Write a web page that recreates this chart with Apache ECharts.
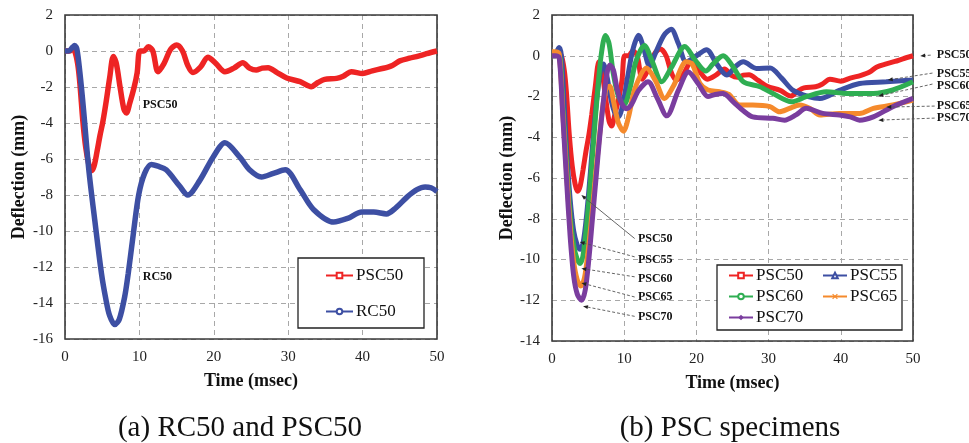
<!DOCTYPE html>
<html>
<head>
<meta charset="utf-8">
<script src="https://cdn.jsdelivr.net/npm/echarts@6/dist/echarts.min.js"></script>
<style>
  html, body { margin: 0; padding: 0; background: #fff; }
  #chart { width: 969px; height: 443px; }
</style>
</head>
<body>
<div id="chart"></div>
<script>
// Mid-span deflection histories (time in msec, deflection in mm)
const timePSC50 = [0, 0.5, 1.0, 1.3, 1.7, 2.0, 2.4, 2.8, 3.2, 3.55, 3.9, 4.3, 4.7, 5.1, 5.5, 6.0, 6.5, 6.9, 7.4, 7.9, 8.25, 8.7, 9.3, 9.7, 10.05, 10.6, 11.2, 11.8, 12.5, 13.3, 14.2, 15.0, 15.8, 16.5, 17.2, 18.2, 19.2, 20.3, 21.5, 22.7, 23.9, 24.8, 25.7, 26.5, 27.3, 28.5, 29.8, 31.6, 33.1, 34.0, 34.9, 36.5, 37.4, 38.5, 40.0, 41.3, 42.8, 44.0, 45.0, 46.3, 47.5, 48.6, 50];
const defPSC50 = [0, 0, 0.05, 0, -0.7, -1.8, -3.9, -5.4, -6.3, -6.65, -6.4, -5.6, -4.7, -3.9, -2.9, -1.5, -0.3, -0.7, -2.0, -3.2, -3.45, -2.9, -2.0, -1.2, 0, 0, 0.24, 0.0, -1.15, -0.7, 0.1, 0.33, 0.0, -0.8, -1.2, -0.9, -0.35, -0.7, -1.15, -0.95, -0.65, -0.95, -1.06, -0.95, -0.93, -1.2, -1.5, -1.7, -1.98, -1.75, -1.58, -1.52, -1.4, -1.15, -1.25, -1.1, -0.96, -0.8, -0.55, -0.4, -0.28, -0.15, 0];

const timeRC50 = [0, 0.5, 1.0, 1.3, 1.6, 2.0, 2.5, 3.2, 4.0, 4.9, 5.5, 6.0, 6.7, 7.3, 8.0, 8.5, 9.2, 9.9, 10.7, 11.6, 12.5, 13.6, 15.4, 16.5, 18.1, 19.9, 21.5, 23.5, 24.8, 26.4, 28.0, 29.6, 31.6, 33.4, 36.1, 38.0, 39.9, 41.5, 43.2, 44.5, 46.0, 47.3, 48.4, 49.2, 50];
const defRC50 = [0, 0, 0.2, 0.3, 0.1, -1.2, -3.3, -6.6, -9.4, -12.35, -13.8, -14.7, -15.2, -14.9, -13.7, -12.35, -10.1, -8.0, -6.8, -6.3, -6.4, -6.6, -7.5, -8.0, -7.2, -5.9, -5.1, -5.9, -6.6, -7.0, -6.8, -6.6, -7.7, -8.8, -9.5, -9.3, -8.95, -8.95, -9.05, -8.7, -8.1, -7.7, -7.55, -7.6, -7.8];

const timePSC55 = [0, 0.5, 0.8, 1.0, 1.3, 1.6, 2.0, 2.5, 3.0, 3.5, 3.9, 4.3, 4.8, 5.3, 5.8, 6.3, 6.8, 7.1, 7.6, 8.2, 8.8, 9.2, 9.8, 10.5, 11.2, 12.0, 12.6, 13.5, 14.3, 15.5, 16.5, 17.5, 18.6, 20.0, 21.4, 22.8, 24.2, 25.5, 26.5, 28.3, 30.2, 31.8, 33.4, 35.5, 37.1, 39.8, 42.6, 46.3, 50];
const defPSC55 = [0, 0, 0.3, 0.4, 0.0, -1.8, -4.5, -7.0, -8.6, -9.3, -9.5, -9.2, -7.8, -5.8, -3.6, -1.8, -0.6, -0.4, -1.0, -2.2, -2.9, -3.0, -2.4, -1.0, 0.3, 1.0, 0.5, -0.5, 0.1, 1.0, 1.3, 0.6, -0.3, 0.0, 0.3, -0.4, -0.95, -0.5, -0.3, -0.62, -0.6, -1.1, -1.7, -2.0, -2.1, -1.7, -1.36, -1.28, -1.19];

const timePSC60 = [0, 0.5, 1.0, 1.5, 2.0, 2.5, 3.0, 3.5, 3.9, 4.3, 4.8, 5.3, 5.8, 6.3, 6.8, 7.4, 7.9, 8.5, 9.2, 10.0, 10.8, 11.6, 12.8, 13.9, 15.2, 16.5, 18.4, 19.8, 21.3, 22.3, 23.7, 25.0, 26.5, 28.8, 30.6, 33.2, 35.2, 38.0, 40.8, 44.5, 47.2, 50];
const defPSC60 = [0, 0, 0, -2.5, -5.2, -7.8, -9.3, -10.0, -10.2, -9.8, -8.3, -6.3, -4.0, -1.8, 0.0, 1.0, 0.6, -0.9, -2.0, -2.4, -1.6, -0.3, 0.5, -0.3, -1.28, -0.6, 0.45, -0.2, -0.75, -0.4, 0.0, -0.5, -1.28, -1.52, -1.85, -2.26, -2.01, -1.77, -1.85, -1.85, -1.68, -1.28];

const timePSC65 = [0, 0.5, 1.0, 1.5, 2.0, 2.5, 3.0, 3.5, 4.0, 4.5, 5.0, 5.5, 6.0, 6.5, 7.0, 7.5, 8.0, 8.5, 9.2, 9.9, 10.6, 11.5, 13.1, 14.3, 15.6, 16.8, 18.6, 19.4, 20.5, 21.6, 23.2, 24.5, 26.0, 27.8, 30.2, 31.5, 32.8, 34.3, 35.8, 37.1, 39.8, 42.6, 44.5, 47.2, 50];
const defPSC65 = [0.2, 0.2, 0.1, -2.8, -5.6, -8.3, -10.1, -11.0, -11.3, -10.9, -9.6, -7.9, -6.0, -4.2, -2.6, -1.6, -1.5, -2.2, -3.3, -3.7, -3.0, -1.6, -0.6, -1.2, -2.1, -1.5, -0.3, -0.4, -1.36, -1.68, -1.77, -1.9, -2.42, -2.42, -2.5, -2.75, -2.6, -2.42, -2.6, -2.91, -2.83, -2.83, -2.58, -2.42, -2.18];

const timePSC70 = [0, 0.5, 1.0, 1.5, 2.0, 2.5, 3.0, 3.5, 4.1, 4.6, 5.1, 5.6, 6.1, 6.6, 7.1, 7.6, 8.0, 8.5, 9.0, 9.6, 10.3, 11.0, 12.0, 13.3, 14.6, 15.9, 17.5, 18.9, 20.3, 21.6, 22.6, 23.7, 25.1, 26.5, 27.8, 30.6, 32.2, 33.8, 35.2, 37.5, 39.8, 41.3, 42.6, 44.5, 47.2, 50];
const defPSC70 = [0, 0, -0.1, -3.0, -6.0, -8.8, -10.8, -11.7, -12.0, -11.5, -10.0, -8.0, -6.0, -4.0, -2.3, -0.9, -0.45, -0.7, -1.6, -2.3, -2.6, -2.4, -1.7, -1.28, -2.1, -2.95, -1.7, -0.8, -1.4, -2.0, -1.9, -1.85, -2.26, -2.7, -3.0, -3.07, -3.16, -2.9, -2.58, -2.83, -2.91, -3.0, -3.16, -3.0, -2.5, -2.09];

// Axis settings
const timeTicks = { min: 0, max: 50, interval: 10 };
const defTicksA = { min: -16, max: 2, interval: 2 };
const defTicksB = { min: -14, max: 2, interval: 2 };

// Callout labels (data coordinates of panel b)
const calloutNames = ['PSC50', 'PSC55', 'PSC60', 'PSC65', 'PSC70'];
const peakLabelPos = [[11.9, -9.0], [11.9, -10.0], [11.9, -10.93], [11.9, -11.86], [11.9, -12.8]];
const peakArrowFrom = [[11.45, -8.97], [11.45, -9.87], [11.45, -10.85], [11.45, -11.84], [11.45, -12.79]];
const peakArrowTo = [[4.07, -6.84], [3.84, -9.14], [4.07, -10.44], [4.07, -11.15], [4.29, -12.29]];
const endLabelPos = [[53.3, 0.03], [53.3, -0.9], [53.3, -1.49], [53.3, -2.47], [53.3, -3.06]];
const endArrowFrom = [[52.45, 0.03], [52.7, -0.85], [52.7, -1.39], [53.0, -2.47], [53.0, -3.06]];
const endArrowTo = [[51.0, -0.01], [46.5, -1.19], [45.2, -1.98], [46.3, -2.52], [45.2, -3.16]];
// Curve labels in panel a
const panelALabels = [['PSC50', 10.45, -3.0], ['RC50', 10.45, -12.55]];

const colors = {
  PSC50: '#ee2424', RC50: '#3d4fa3', PSC55: '#3d4fa3',
  PSC60: '#2fae52', PSC65: '#f58a2c', PSC70: '#7a3d9e'
};
const symbols = {
  PSC50: 'emptyRect', RC50: 'emptyCircle', PSC55: 'emptyTriangle',
  PSC60: 'emptyCircle', PSC65: 'path://M0,1.5L1.5,0L5,3.5L8.5,0L10,1.5L6.5,5L10,8.5L8.5,10L5,6.5L1.5,10L0,8.5L3.5,5Z',
  PSC70: 'diamond'
};

const serif = '"Liberation Serif", "Times New Roman", serif';

function pairs(t, v) { return t.map((x, i) => [x, v[i]]); }

function lineSeries(name, t, v, panel, width) {
  return {
    name: name, type: 'line', xAxisIndex: panel, yAxisIndex: panel,
    data: pairs(t, v), smooth: 0.3, showSymbol: false,
    symbol: symbols[name], symbolSize: 6,
    color: colors[name],
    lineStyle: { width: width, color: colors[name] },
    itemStyle: { color: colors[name], borderColor: colors[name] },
    emphasis: { disabled: true }, animation: false, z: 3
  };
}

function xAxisFor(gridIndex) {
  return {
    type: 'value', gridIndex: gridIndex, min: timeTicks.min, max: timeTicks.max, interval: timeTicks.interval,
    name: 'Time (msec)', nameLocation: 'middle', nameGap: 33,
    nameTextStyle: { fontFamily: serif, fontWeight: 'bold', fontSize: 18, color: '#111' },
    axisLine: { show: false }, axisTick: { show: false },
    axisLabel: { fontFamily: serif, fontSize: 15, color: '#222', margin: 11 },
    splitLine: { show: true, lineStyle: { color: '#a8a8a8', type: [5, 4], width: 1 } }
  };
}
function yAxisFor(gridIndex, ticks, gap) {
  return {
    type: 'value', gridIndex: gridIndex, min: ticks.min, max: ticks.max, interval: ticks.interval,
    name: 'Deflection (mm)', nameLocation: 'middle', nameGap: gap, nameRotate: 90,
    nameTextStyle: { fontFamily: serif, fontWeight: 'bold', fontSize: 18, color: '#111' },
    axisLine: { show: false }, axisTick: { show: false },
    axisLabel: { fontFamily: serif, fontSize: 15, color: '#222', margin: 12 },
    splitLine: { show: true, lineStyle: { color: '#a8a8a8', type: [5, 4], width: 1 } }
  };
}

const legendText = { fontFamily: serif, fontSize: 17, color: '#111', padding: [0, 0, 0, -2] };

const chart = echarts.init(document.getElementById('chart'), null, { renderer: 'canvas' });

const gridA = { left: 65, top: 15, width: 372, height: 324 };
const gridB = { left: 552, top: 15, width: 361, height: 326 };

chart.setOption({
  backgroundColor: '#fff',
  animation: false,
  grid: [
    Object.assign({ show: false }, gridA),
    Object.assign({ show: false }, gridB)
  ],
  xAxis: [xAxisFor(0), xAxisFor(1)],
  yAxis: [yAxisFor(0, defTicksA, 37), yAxisFor(1, defTicksB, 35)],
  legend: [
    { data: ['PSC50', 'RC50'], orient: 'vertical', left: 325, top: 267, padding: 0, itemWidth: 27, itemHeight: 7, itemGap: 19,
      textStyle: legendText, lineStyle: { width: 2 }, selectedMode: false, z: 20 },
    { data: ['PSC50', 'PSC60', 'PSC70'], orient: 'vertical', left: 728, top: 267, padding: 0, itemWidth: 24, itemHeight: 7, itemGap: 4,
      textStyle: legendText, lineStyle: { width: 2 }, selectedMode: false, z: 20 },
    { data: ['PSC55', 'PSC65'], orient: 'vertical', left: 822, top: 267, padding: 0, itemWidth: 24, itemHeight: 7, itemGap: 4,
      textStyle: legendText, lineStyle: { width: 2 }, selectedMode: false, z: 20 }
  ],
  series: [
    lineSeries('PSC50', timePSC50, defPSC50, 0, 5.5),
    lineSeries('RC50', timeRC50, defRC50, 0, 5.5),
    lineSeries('PSC50', timePSC50, defPSC50, 1, 5),
    lineSeries('PSC55', timePSC55, defPSC55, 1, 5),
    lineSeries('PSC60', timePSC60, defPSC60, 1, 5),
    lineSeries('PSC65', timePSC65, defPSC65, 1, 5),
    lineSeries('PSC70', timePSC70, defPSC70, 1, 5)
  ]
});

// Annotations: plot frames, legend frames, captions, curve labels and leader arrows
function toPx(panel, p) {
  return chart.convertToPixel({ xAxisIndex: panel, yAxisIndex: panel }, p);
}
function arrow(from, to, dashed) {
  const a = toPx(1, from), b = toPx(1, to);
  const dx = b[0] - a[0], dy = b[1] - a[1];
  const len = Math.sqrt(dx * dx + dy * dy) || 1;
  const ux = dx / len, uy = dy / len;
  const hl = 5, hw = 2;
  const bx = b[0] - ux * hl, by = b[1] - uy * hl;
  return [
    { type: 'line', shape: { x1: a[0], y1: a[1], x2: bx, y2: by }, z: 10,
      style: { stroke: '#555', lineWidth: 0.9, lineDash: dashed ? [3, 2] : null } },
    { type: 'polygon', z: 10,
      shape: { points: [[b[0], b[1]], [bx - uy * hw, by + ux * hw], [bx + uy * hw, by - ux * hw]] },
      style: { fill: '#222' } }
  ];
}
const labelStyle = { fontFamily: serif, fontWeight: 'bold', fontSize: 12, fill: '#111' };

const g = [];
[gridA, gridB].forEach(function (gr) {
  g.push({ type: 'rect', shape: { x: gr.left, y: gr.top, width: gr.width, height: gr.height }, z: 2,
    style: { fill: null, stroke: '#3a3a3a', lineWidth: 1.6 } });
});
g.push({ type: 'rect', shape: { x: 298, y: 258, width: 126, height: 70 }, z: 2,
  style: { fill: '#fff', stroke: '#222', lineWidth: 1.3 } });
g.push({ type: 'rect', shape: { x: 717, y: 265, width: 185, height: 65 }, z: 2,
  style: { fill: '#fff', stroke: '#222', lineWidth: 1.3 } });
g.push({ type: 'text', x: 240, y: 428, z: 10,
  style: { text: '(a) RC50 and PSC50', fontFamily: serif, fontSize: 29, fill: '#111', textAlign: 'center', textVerticalAlign: 'middle' } });
g.push({ type: 'text', x: 730, y: 428, z: 10,
  style: { text: '(b) PSC specimens', fontFamily: serif, fontSize: 29, fill: '#111', textAlign: 'center', textVerticalAlign: 'middle' } });
panelALabels.forEach(function (d) {
  const p = toPx(0, [d[1], d[2]]);
  g.push({ type: 'text', x: p[0], y: p[1], z: 10,
    style: Object.assign({ text: d[0], textVerticalAlign: 'middle' }, labelStyle) });
});
calloutNames.forEach(function (name, i) {
  const p = toPx(1, peakLabelPos[i]);
  g.push({ type: 'text', x: p[0], y: p[1], z: 10,
    style: Object.assign({ text: name, textVerticalAlign: 'middle' }, labelStyle) });
  arrow(peakArrowFrom[i], peakArrowTo[i], i > 0).forEach(function (e) { g.push(e); });
  const q = toPx(1, endLabelPos[i]);
  g.push({ type: 'text', x: q[0], y: q[1], z: 10,
    style: Object.assign({ text: name, textVerticalAlign: 'middle' }, labelStyle) });
  arrow(endArrowFrom[i], endArrowTo[i], true).forEach(function (e) { g.push(e); });
});
chart.setOption({ graphic: g });
</script>
</body>
</html>
